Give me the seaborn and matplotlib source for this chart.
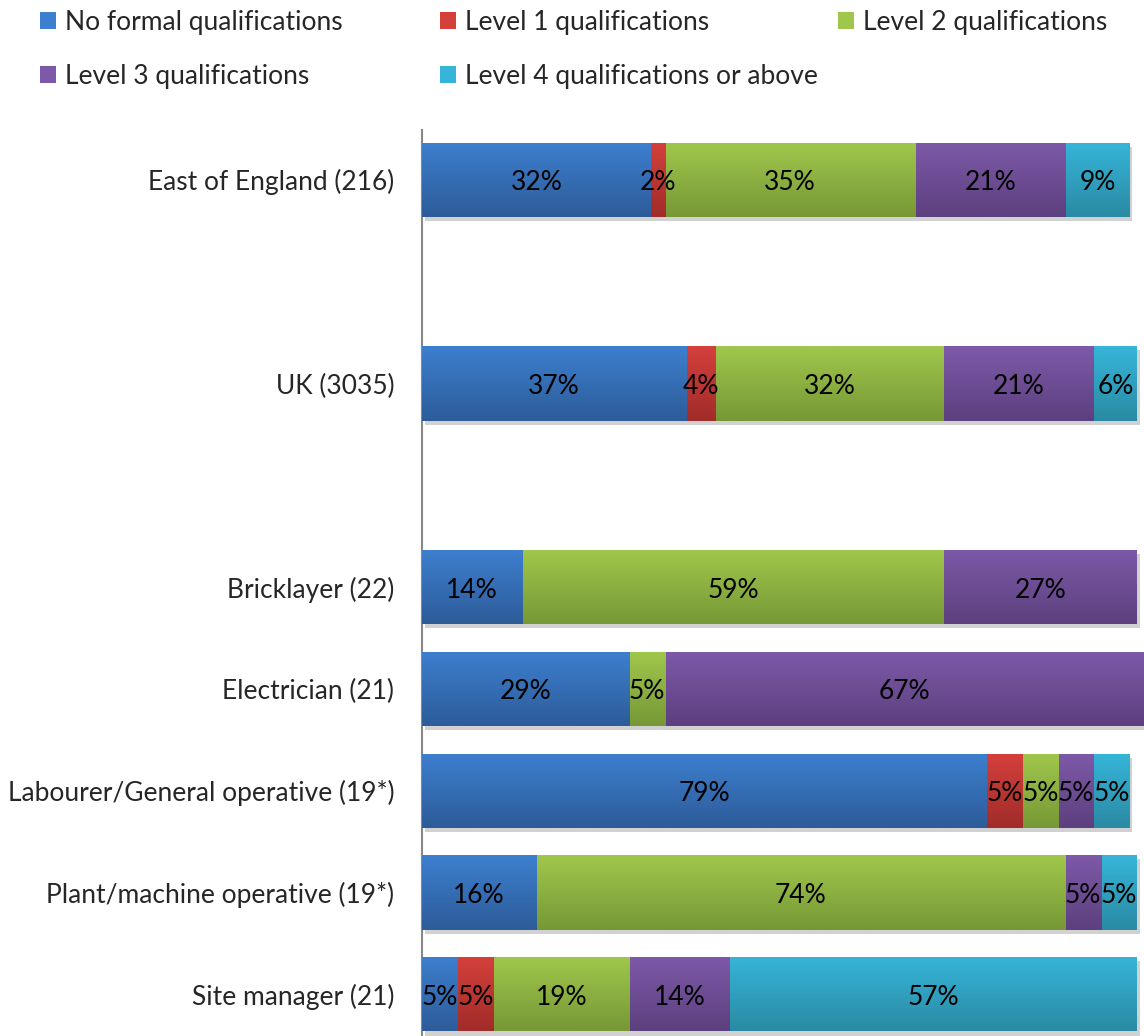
import numpy as np
import pandas as pd
import matplotlib
matplotlib.use("Agg")
import matplotlib.pyplot as plt
import matplotlib.patheffects as pe
from matplotlib.colors import LinearSegmentedColormap
from matplotlib.patches import Patch
import seaborn as sns

# groups shown on the y axis (top to bottom)
categories = ["East of England (216)", "UK (3035)", "Bricklayer (22)", "Electrician (21)",
              "Labourer/General operative (19*)", "Plant/machine operative (19*)",
              "Site manager (21)"]

series = ["No formal qualifications", "Level 1 qualifications", "Level 2 qualifications",
          "Level 3 qualifications", "Level 4 qualifications or above"]

# percentages per group
no_formal = [32, 37, 14, 29, 79, 16, 5]
level_1 = [2, 4, 0, 0, 5, 0, 5]
level_2 = [35, 32, 59, 5, 5, 74, 19]
level_3 = [21, 21, 27, 67, 5, 5, 14]
level_4 = [9, 6, 0, 0, 5, 5, 57]

# (top, bottom) shades for the gradient fill
shades = [("#3d7fcf", "#2d5c99"), ("#d4403c", "#a12c29"), ("#a0c74c", "#779836"),
          ("#7d59a8", "#5d407f"), ("#36b5d8", "#2a8aa4")]

df = pd.DataFrame(dict(zip(series, [no_formal, level_1, level_2, level_3, level_4])),
                  index=categories)
cum = df.cumsum(axis=1)

# two empty slots separate the regional bars from the occupations
order = [categories[0], "gap1", categories[1], "gap2"] + categories[2:]

sns.set_theme(style="white")
plt.rcParams["font.family"] = ["Lato", "DejaVu Sans"]
FS = 19

fig = plt.figure(figsize=(11.44, 10.36), dpi=100)
ax = fig.add_axes([422 / 1144, 0, 722 / 1144, 906 / 1036])

grad = np.linspace(0, 1, 64).reshape(-1, 1)
for k, i in enumerate(reversed(range(len(series)))):
    s = series[i]
    n0 = len(ax.patches)
    sns.barplot(x=cum[s].values, y=categories, order=order, orient="h",
                color=shades[i][0], saturation=1, width=0.73, errorbar=None,
                linewidth=0, ax=ax)
    cmap = LinearSegmentedColormap.from_list(s, [shades[i][0], shades[i][1]])
    for p in ax.patches[n0:]:
        p.set_zorder(1 + k)
        if k == 0:
            p.set_path_effects([pe.SimplePatchShadow(offset=(2, -3), shadow_rgbFace="#9a9a9a",
                                                     alpha=0.45), pe.Normal()])
        x, y, w, h = p.get_x(), p.get_y(), p.get_width(), p.get_height()
        if w <= 0:
            continue
        im = ax.imshow(grad, extent=(x, x + w, y + h, y), cmap=cmap, aspect="auto",
                       interpolation="bilinear", zorder=1.5 + k)
        im.set_clip_path(p)

# value labels centred in each segment
for j, cat in enumerate(categories):
    ypos = order.index(cat)
    for s in series:
        v = df.loc[cat, s]
        if v > 0:
            ax.text(cum.loc[cat, s] - v / 2, ypos + 0.03, f"{v}%", ha="center", va="center",
                    fontsize=FS, color="black", zorder=20)

ax.set_xlim(0, 101)
ax.set_ylim(8.41, -0.49)
ax.set_xticks([])
ax.set_yticks(range(len(order)))
ax.set_yticklabels(["" if c.startswith("gap") else c for c in order], fontsize=FS)
ax.tick_params(axis="y", length=0, pad=20)
ax.set_xlabel("")
ax.set_ylabel("")
for side in ["top", "right", "bottom"]:
    ax.spines[side].set_visible(False)
ax.spines["left"].set_color("#888888")
ax.spines["left"].set_linewidth(1.5)

# legend laid out in three fixed columns like the original
handles = [Patch(facecolor=shades[i][0], edgecolor="none", label=series[i]) for i in range(5)]
cols = [([handles[0], handles[3]], 40), ([handles[1], handles[4]], 440), ([handles[2]], 838)]
for hs, xpx in cols:
    fig.legend(handles=hs, loc="upper left", bbox_to_anchor=(xpx / 1144, 1 - 10 / 1036),
               frameon=False, fontsize=FS, borderpad=0, borderaxespad=0,
               handlelength=0.6, handleheight=0.6, handletextpad=0.35, labelspacing=1.1)

fig.savefig("out.png", dpi=100)
